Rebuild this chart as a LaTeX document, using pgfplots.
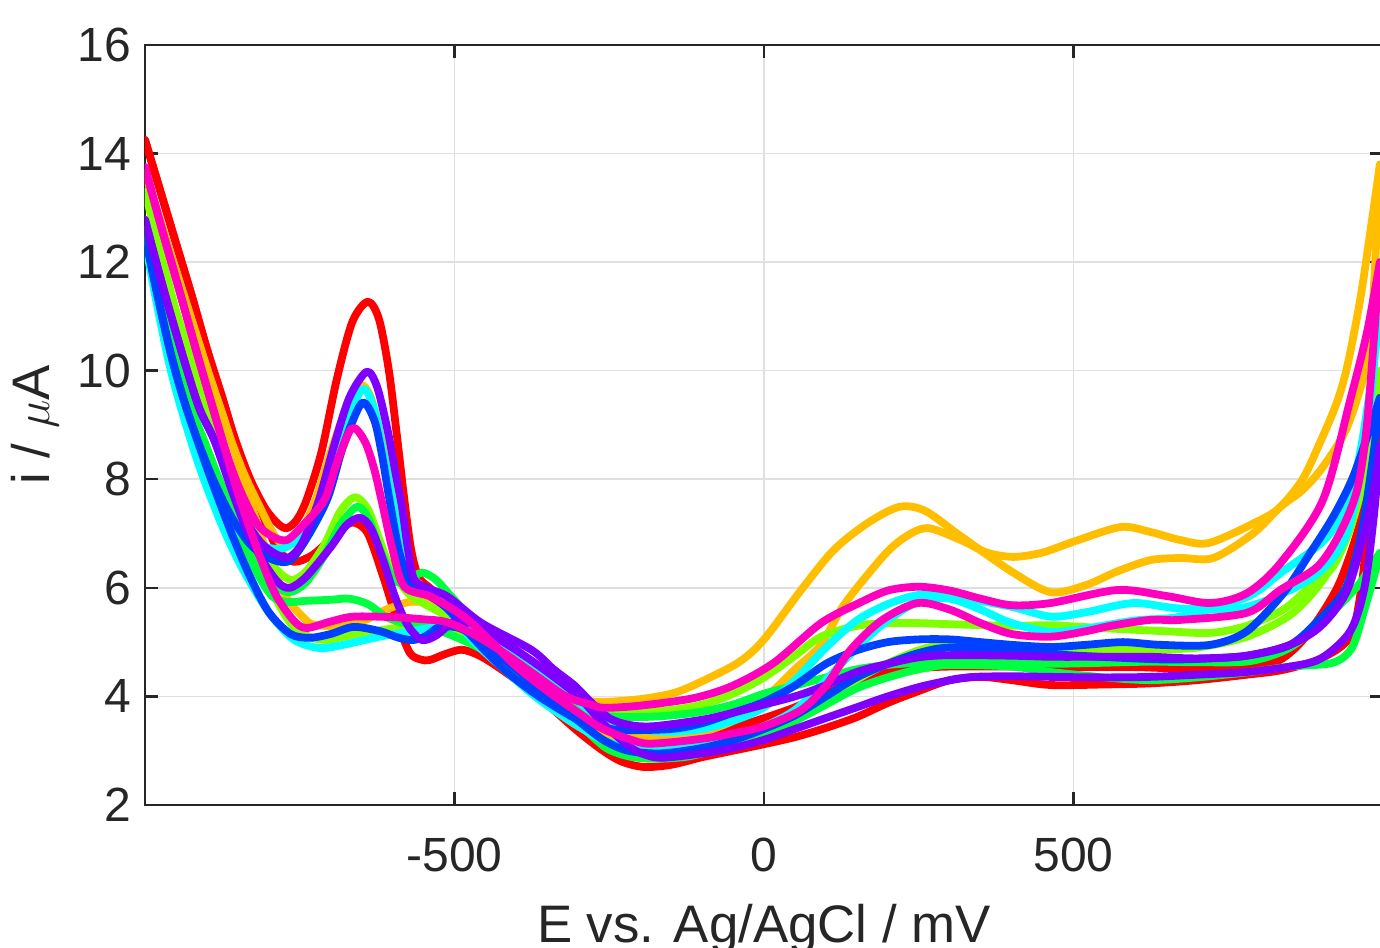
\documentclass[border=0pt]{standalone}
\usepackage{fontspec}
\setmainfont{Liberation Sans}
\usepackage{pgfplots}
\pgfplotsset{compat=1.18}
\definecolor{cR}{HTML}{FF0000}
\definecolor{cO}{HTML}{FFBF00}
\definecolor{cL}{HTML}{80FF00}
\definecolor{cG}{HTML}{00FF40}
\definecolor{cC}{HTML}{00FFFF}
\definecolor{cB}{HTML}{0040FF}
\definecolor{cP}{HTML}{8000FF}
\definecolor{cM}{HTML}{FF00BF}
\begin{document}
\begin{tikzpicture}
\begin{axis}[name=ax, width=309.5pt, height=190pt, scale only axis,
  xmin=-1000, xmax=1000, ymin=2, ymax=16,
  xtick={-500,0,500}, xticklabels={-500,0,500},
  ytick={2,4,6,8,10,12,14,16}, yticklabels={2,4,6,8,10,12,14,16},
  tick align=inside, major tick length=3.3pt,
  tick style={line width=0.6pt, color=black!85},
  axis line style={line width=0.6pt, color=black!85},
  grid=major, grid style={line width=0.4pt, color=black!12},
  ticklabel style={font=\fontsize{12}{14}\selectfont, text=black!85},
  xticklabel style={yshift=-4.7pt},
  xlabel={E vs. Ag/AgCl / mV}, ylabel={i / $\mu$A},
  label style={font=\fontsize{13.2}{15}\selectfont, text=black!85},
  xlabel style={at={(axis description cs:0.5,-0.129)}, anchor=north, inner sep=0pt},
  ylabel style={at={(axis description cs:-0.089,0.5)}, anchor=center, inner sep=0pt},
  every axis plot/.append style={line width=1.95pt, smooth, line join=round, line cap=round}]
% red
\addplot[cR] coordinates {(-1000,14.25) (-975,13.3) (-950,12.35) (-925,11.4) (-900,10.4) (-875,9.5) (-855,8.75) (-830,8.0) (-805,7.45) (-785,7.18) (-771,7.1) (-755,7.25) (-739,7.62) (-715,8.5) (-690,9.85) (-665,10.9) (-640,11.27) (-622,10.95) (-606,10.0) (-593,8.8) (-581,7.62) (-570,6.7) (-558,6.2) (-540,6.0) (-510,5.7) (-470,5.2) (-430,4.75) (-380,4.3) (-340,3.95) (-300,3.65) (-260,3.45) (-200,3.35) (-150,3.33) (-100,3.38) (-48,3.44) (0,3.6) (50,3.8) (100,4.05) (150,4.3) (200,4.45) (250,4.52) (300,4.55) (400,4.55) (500,4.54) (600,4.54) (700,4.5) (780,4.52) (830,4.65) (866,4.98) (900,5.5) (930,6.1) (958,7.0) (980,8.0) (995,8.8)};
\addplot[cR] coordinates {(-1000,14.25) (-975,13.3) (-950,12.35) (-925,11.4) (-900,10.4) (-875,9.5) (-855,8.75) (-830,7.95) (-805,7.2) (-785,6.7) (-760,6.48) (-730,6.6) (-700,6.9) (-675,7.15) (-661,7.2) (-640,7.0) (-615,6.2) (-590,5.3) (-572,4.8) (-555,4.68) (-540,4.67) (-515,4.78) (-489,4.86) (-465,4.78) (-440,4.62) (-400,4.3) (-350,3.85) (-300,3.35) (-260,3.0) (-230,2.8) (-194,2.7) (-150,2.74) (-100,2.88) (-50,3.0) (0,3.12) (50,3.25) (100,3.42) (150,3.62) (200,3.88) (250,4.1) (300,4.3) (350,4.36) (400,4.3) (463,4.21) (550,4.22) (624,4.24) (700,4.3) (780,4.4) (839,4.49) (900,4.7) (947,5.1) (965,6.0) (979,7.5) (995,8.8)};
% orange
\addplot[cO] coordinates {(-1000,13.65) (-975,12.75) (-950,11.85) (-925,10.95) (-900,10.05) (-875,9.2) (-862,8.75) (-840,8.1) (-815,7.5) (-790,6.95) (-772,6.78) (-750,6.98) (-725,7.6) (-700,8.5) (-675,9.3) (-653,9.74) (-635,9.5) (-615,8.6) (-598,7.6) (-585,6.8) (-570,6.25) (-550,6.0) (-520,5.7) (-480,5.25) (-440,4.8) (-400,4.35) (-350,3.85) (-300,3.45) (-260,3.27) (-230,3.23) (-166,3.25) (-113,3.3) (-50,3.55) (0,3.95) (50,4.5) (92,4.95) (130,5.7) (194,6.6) (230,6.95) (265,7.1) (318,6.88) (360,6.65) (403,6.57) (450,6.65) (500,6.85) (576,7.12) (624,7.03) (673,6.88) (720,6.83) (802,7.25) (834,7.49) (870,8.0) (898,8.67) (925,9.4) (942,10.07) (963,11.3) (980,12.6) (995,13.8)};
\addplot[cO] coordinates {(-1000,13.65) (-975,12.75) (-950,11.85) (-925,10.95) (-900,10.05) (-875,9.2) (-855,8.5) (-835,7.75) (-815,7.05) (-795,6.4) (-770,5.8) (-744,5.45) (-727,5.32) (-690,5.3) (-650,5.38) (-610,5.6) (-573,5.74) (-540,5.72) (-500,5.6) (-468,5.41) (-413,4.91) (-348,4.17) (-295,3.94) (-258,3.9) (-200,3.95) (-150,4.05) (-113,4.21) (-42,4.62) (0,5.05) (60,5.96) (113,6.7) (167,7.19) (218,7.49) (260,7.42) (318,6.95) (400,6.3) (463,5.92) (520,6.05) (570,6.3) (624,6.51) (673,6.55) (726,6.55) (790,7.0) (834,7.49) (870,7.8) (903,8.23) (942,8.96) (974,10.14) (984,11.3) (995,13.8)};
% lime
\addplot[cL] coordinates {(-1000,13.3) (-975,12.2) (-950,11.1) (-924,10.2) (-900,9.3) (-880,8.65) (-855,7.9) (-830,7.2) (-800,6.5) (-766,6.15) (-740,6.3) (-710,6.8) (-685,7.4) (-661,7.67) (-640,7.45) (-621,6.88) (-605,6.4) (-589,6.1) (-570,5.85) (-540,5.65) (-500,5.4) (-460,5.05) (-420,4.65) (-370,4.15) (-320,3.7) (-280,3.3) (-240,3.0) (-200,2.9) (-150,2.92) (-100,3.0) (-50,3.15) (0,3.35) (60,3.7) (120,4.1) (180,4.5) (250,4.85) (300,4.95) (400,4.92) (463,4.88) (550,4.86) (624,4.86) (700,4.9) (780,5.1) (850,5.5) (900,6.1) (940,6.9) (965,7.8) (985,9.0) (995,10.0)};
\addplot[cL] coordinates {(-1000,13.3) (-975,12.2) (-950,11.1) (-924,10.2) (-900,9.3) (-875,8.4) (-850,7.55) (-825,6.75) (-800,6.05) (-765,5.35) (-735,5.1) (-706,5.04) (-680,5.1) (-647,5.17) (-600,5.25) (-550,5.3) (-515,5.25) (-480,5.1) (-440,4.85) (-400,4.55) (-350,4.2) (-300,3.9) (-258,3.75) (-200,3.72) (-150,3.75) (-100,3.85) (-50,4.05) (0,4.35) (50,4.75) (92,5.1) (150,5.3) (200,5.35) (250,5.35) (300,5.33) (400,5.3) (463,5.31) (560,5.25) (650,5.2) (721,5.17) (780,5.3) (839,5.6) (880,6.0) (919,6.39) (950,7.2) (975,8.5) (995,10.0)};
% green
\addplot[cG] coordinates {(-1000,12.6) (-975,11.4) (-948,10.2) (-925,9.3) (-905,8.72) (-880,8.0) (-850,7.2) (-820,6.5) (-790,6.05) (-766,5.92) (-740,6.1) (-710,6.6) (-685,7.15) (-658,7.49) (-640,7.3) (-620,6.7) (-598,6.15) (-578,6.12) (-553,6.28) (-530,6.15) (-510,5.9) (-470,5.4) (-430,4.85) (-380,4.3) (-330,3.8) (-290,3.4) (-255,3.05) (-220,2.9) (-180,2.85) (-130,2.88) (-100,2.95) (-50,3.1) (0,3.3) (50,3.55) (100,3.85) (150,4.15) (200,4.35) (250,4.5) (300,4.58) (400,4.55) (463,4.45) (550,4.35) (624,4.3) (700,4.35) (785,4.45) (850,4.55) (919,4.62) (950,4.9) (970,5.6) (985,6.2) (995,6.64)};
\addplot[cG] coordinates {(-1000,12.6) (-975,11.4) (-948,10.2) (-925,9.3) (-905,8.72) (-880,7.95) (-850,7.05) (-820,6.3) (-795,5.85) (-771,5.74) (-740,5.76) (-700,5.78) (-670,5.8) (-640,5.7) (-610,5.46) (-580,5.35) (-550,5.3) (-510,5.15) (-470,4.95) (-430,4.7) (-380,4.35) (-330,4.0) (-290,3.75) (-258,3.64) (-200,3.62) (-150,3.65) (-100,3.72) (-50,3.85) (0,4.05) (50,4.2) (100,4.35) (150,4.5) (200,4.58) (250,4.62) (300,4.64) (400,4.62) (463,4.6) (550,4.62) (624,4.64) (700,4.63) (785,4.65) (850,4.9) (910,5.47) (940,5.8) (963,6.09) (980,6.4) (995,6.64)};
% cyan
\addplot[cC] coordinates {(-1000,12.4) (-980,11.2) (-960,10.1) (-940,9.25) (-920,8.55) (-900,7.95) (-870,7.3) (-840,6.95) (-805,6.75) (-776,6.73) (-750,6.95) (-712,7.62) (-685,8.7) (-650,9.65) (-630,9.3) (-615,8.5) (-600,7.62) (-585,6.7) (-565,6.1) (-540,5.95) (-510,5.6) (-468,5.0) (-420,4.5) (-370,4.0) (-320,3.6) (-270,3.25) (-220,3.05) (-166,3.0) (-100,3.1) (-50,3.25) (0,3.45) (50,3.75) (100,4.3) (150,4.9) (200,5.4) (250,5.75) (300,5.8) (350,5.6) (400,5.35) (463,5.19) (520,5.25) (600,5.4) (673,5.47) (780,5.83) (834,6.27) (915,7.01) (958,8.23) (984,10.07) (995,11.2)};
\addplot[cC] coordinates {(-1000,12.4) (-980,11.2) (-960,10.1) (-940,9.25) (-920,8.5) (-900,7.85) (-870,7.0) (-840,6.3) (-800,5.55) (-760,5.05) (-718,4.89) (-680,4.95) (-621,5.1) (-570,5.2) (-529,5.28) (-490,5.3) (-450,5.15) (-400,4.8) (-350,4.35) (-300,3.9) (-260,3.6) (-200,3.4) (-150,3.35) (-100,3.4) (-50,3.55) (0,3.8) (50,4.3) (100,4.9) (150,5.4) (200,5.7) (250,5.87) (300,5.85) (400,5.65) (463,5.47) (520,5.55) (597,5.72) (673,5.62) (780,5.65) (887,6.2) (942,7.01) (974,8.85) (990,10.7) (995,11.2)};
% blue
\addplot[cB] coordinates {(-1000,12.5) (-980,11.4) (-958,10.3) (-937,9.45) (-915,8.72) (-890,8.0) (-860,7.3) (-830,6.8) (-800,6.55) (-770,6.48) (-745,6.8) (-706,7.62) (-680,8.6) (-650,9.4) (-630,9.1) (-618,8.5) (-605,7.62) (-590,6.7) (-575,6.15) (-560,5.95) (-540,5.85) (-510,5.6) (-468,5.05) (-420,4.5) (-370,4.05) (-306,3.6) (-268,3.45) (-230,3.38) (-150,3.4) (-102,3.5) (-50,3.7) (0,3.9) (50,4.2) (100,4.6) (150,4.85) (200,5.0) (250,5.05) (300,5.05) (350,5.0) (400,4.95) (463,4.91) (520,4.95) (580,5.0) (640,4.95) (721,4.95) (780,5.2) (839,5.9) (880,6.6) (919,7.3) (950,8.0) (975,8.8) (995,9.5)};
\addplot[cB] coordinates {(-1000,12.5) (-980,11.4) (-958,10.3) (-937,9.45) (-915,8.7) (-890,7.9) (-860,7.0) (-830,6.2) (-800,5.55) (-765,5.15) (-734,5.08) (-700,5.15) (-663,5.28) (-620,5.2) (-590,5.08) (-566,5.04) (-545,5.12) (-524,5.28) (-490,5.25) (-450,4.95) (-400,4.5) (-350,4.0) (-300,3.55) (-260,3.2) (-220,3.0) (-166,2.95) (-100,3.05) (-48,3.2) (0,3.4) (50,3.65) (100,4.0) (150,4.35) (200,4.6) (250,4.8) (300,4.9) (400,4.85) (463,4.78) (560,4.72) (650,4.68) (721,4.7) (780,4.75) (850,4.95) (900,5.45) (940,6.0) (965,7.0) (985,8.5) (995,9.5)};
% purple
\addplot[cP] coordinates {(-1000,12.78) (-970,11.5) (-937,10.2) (-912,9.3) (-888,8.72) (-860,7.85) (-835,7.2) (-810,6.8) (-785,6.6) (-766,6.57) (-745,6.85) (-719,7.62) (-695,8.6) (-670,9.5) (-642,9.98) (-625,9.7) (-608,8.9) (-595,8.1) (-585,7.5) (-575,6.7) (-565,6.15) (-540,5.98) (-510,5.83) (-456,5.35) (-376,4.86) (-340,4.5) (-306,4.2) (-280,3.9) (-250,3.6) (-220,3.48) (-180,3.45) (-100,3.57) (-50,3.7) (0,3.85) (50,4.0) (92,4.17) (150,4.45) (200,4.6) (250,4.72) (300,4.76) (400,4.75) (463,4.73) (550,4.73) (624,4.73) (700,4.7) (780,4.75) (850,4.95) (900,5.3) (940,5.9) (965,6.8) (985,7.8) (995,8.6)};
\addplot[cP] coordinates {(-1000,12.78) (-970,11.5) (-937,10.2) (-912,9.3) (-888,8.72) (-860,7.8) (-835,7.05) (-810,6.5) (-785,6.1) (-766,6.0) (-740,6.2) (-700,6.75) (-675,7.15) (-653,7.29) (-635,7.1) (-615,6.5) (-595,5.8) (-575,5.3) (-553,5.04) (-530,5.12) (-505,5.35) (-485,5.4) (-450,5.2) (-400,4.85) (-350,4.45) (-300,4.0) (-260,3.5) (-220,3.1) (-198,2.95) (-166,2.87) (-100,2.95) (-50,3.05) (0,3.2) (50,3.4) (92,3.57) (150,3.8) (200,4.0) (260,4.2) (330,4.35) (400,4.37) (463,4.36) (550,4.35) (624,4.36) (700,4.4) (780,4.45) (850,4.55) (900,4.7) (947,5.2) (970,6.0) (985,7.3) (995,8.6)};
% magenta
\addplot[cM] coordinates {(-1000,13.75) (-975,12.7) (-950,11.7) (-913,10.2) (-875,8.72) (-850,7.9) (-820,7.2) (-795,6.95) (-771,6.88) (-745,7.15) (-710,7.62) (-690,8.3) (-666,8.94) (-645,8.7) (-630,8.2) (-618,7.62) (-600,6.7) (-581,6.02) (-537,5.83) (-484,5.46) (-440,5.0) (-400,4.55) (-350,4.1) (-300,3.7) (-260,3.4) (-200,3.15) (-166,3.14) (-100,3.22) (-50,3.32) (0,3.45) (60,3.75) (100,4.2) (140,4.86) (190,5.4) (248,5.72) (300,5.6) (350,5.35) (400,5.15) (463,5.1) (520,5.2) (560,5.3) (624,5.41) (673,5.41) (780,5.54) (834,5.96) (894,6.39) (930,7.0) (958,7.8) (974,9.0) (990,11.3) (995,12.0)};
\addplot[cM] coordinates {(-1000,13.75) (-975,12.7) (-950,11.7) (-913,10.2) (-875,8.72) (-850,7.75) (-820,6.75) (-790,5.9) (-760,5.4) (-739,5.26) (-700,5.38) (-663,5.47) (-600,5.46) (-550,5.42) (-513,5.37) (-470,5.15) (-420,4.8) (-370,4.4) (-320,4.0) (-280,3.85) (-258,3.79) (-200,3.83) (-113,3.97) (-50,4.2) (16,4.62) (92,5.35) (150,5.7) (200,5.95) (250,6.02) (300,5.95) (350,5.8) (400,5.68) (463,5.72) (571,5.96) (650,5.85) (721,5.72) (780,5.9) (834,6.45) (903,7.62) (947,9.46) (974,10.7) (995,12.0)};
\end{axis}
\pgfresetboundingbox
\path[use as bounding box] (ax.south west) ++(-36.25pt,-35.75pt) rectangle ([xshift=-0.75pt,yshift=11.25pt]ax.north east);
\end{tikzpicture}
\end{document}
